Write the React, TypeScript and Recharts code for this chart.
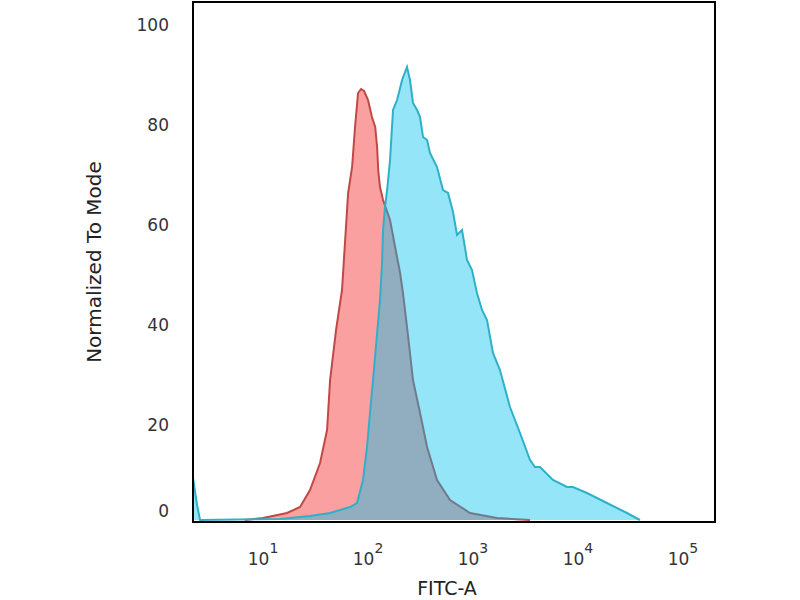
import React from 'react';
import { ComposedChart, Area, XAxis, YAxis, ReferenceArea, Label } from 'recharts';

// FITC-A intensity (log axis) and % of mode
const isotypeX = [6.7, 10, 16.9, 22.5, 28, 34.9, 40.7, 43.5, 49.6, 56.5, 64.6, 70.5, 75.2, 80.3, 85.8, 91.6, 100, 109, 117, 122, 125, 130, 139, 162, 181, 202, 215, 240, 268, 313, 365, 454, 604, 936, 1690, 3490];
const isotypeY = [0, 0.4, 1.4, 2.6, 6, 11.4, 18, 28, 38, 46, 65.4, 70.6, 78.6, 85.4, 86.2, 85.8, 84, 80.6, 78.6, 74.6, 70, 66.6, 64, 60, 54.6, 49.4, 45.4, 37, 28, 21.4, 14.6, 8, 4, 1.4, 0.4, 0];

const sampleX = [2.15, 2.35, 2.51, 14.5, 28, 43.5, 67.4, 78.5, 89.6, 97.8, 104.4, 111.6, 130, 136, 139, 145, 152, 162, 173, 189, 211, 235, 251, 268, 293, 313, 334, 365, 389, 454, 518, 578, 645, 704, 786, 877, 978, 1091, 1218, 1359, 1549, 1806, 2249, 2803, 3493, 3893, 4345, 5776, 7857, 8954, 12180, 18870, 29290, 38900];
const sampleY = [8.4, 3, 0, 0.2, 0.8, 1.4, 2.6, 3.4, 8, 14.6, 21.4, 28, 44, 51.4, 58, 62.6, 66, 72, 82, 84, 88, 90.6, 88, 83.4, 82, 80.6, 76.6, 76, 73.4, 70.6, 66, 65.4, 61.6, 57, 58, 52, 50, 45.4, 42, 40, 33.4, 30, 22.6, 17.4, 12, 10.6, 10.6, 8, 6.6, 6.6, 5.4, 3.4, 1.4, 0];

const xTicks = [10, 100, 1000, 10000, 100000];
const yTicks = [0, 20, 40, 60, 80, 100];

const X_MIN = 2.15;
const X_MAX = 202000;
const Y_MIN = -0.4;
const Y_MAX = 103.6;

const rows = [
    ...isotypeX.map((x, i) => ({ x, isotype: isotypeY[i], sample: null as number | null })),
    ...sampleX.map((x, i) => ({ x, isotype: null as number | null, sample: sampleY[i] })),
].sort((a, b) => a.x - b.x);

const XTick = (props: any) => {
    const { x, y, payload } = props;
    const exp = Math.round(Math.log10(payload.value));
    return (
        <text x={x} y={y + 43} textAnchor="middle" fill="#333" fontSize={17}>
            <tspan>10</tspan>
            <tspan dy={-12} fontSize={14}>{exp}</tspan>
        </text>
    );
};

const YTick = (props: any) => {
    const { x, y, payload } = props;
    // the zero label sits a bit higher than the others
    const shift = payload.value === 0 ? -8.5 : 5.5;
    return (
        <text x={x} y={y + shift} dy="0.35em" textAnchor="end" fill="#333" fontSize={17}>
            {payload.value}
        </text>
    );
};

export default function App() {
    return (
        <div style={{ position: 'absolute', left: 0, top: 0, width: 800, height: 600, background: '#fff', fontFamily: '"DejaVu Sans", Verdana, sans-serif' }}>
            <ComposedChart width={800} height={600} data={rows} margin={{ top: 2, right: 85, bottom: 0, left: 0 }}>
                <XAxis
                    dataKey="x"
                    type="number"
                    scale="log"
                    domain={[X_MIN, X_MAX]}
                    allowDataOverflow
                    ticks={xTicks}
                    interval={0}
                    height={78}
                    axisLine={false}
                    tickLine={false}
                    tickSize={0}
                    tickMargin={0}
                    tick={<XTick />}
                >
                    <Label
                        content={(p: any) => {
                            const vb = p.viewBox;
                            return (
                                <text x={vb.x + vb.width / 2 - 7} y={vb.y + 73} textAnchor="middle" fill="#222" fontSize={19}>
                                    FITC-A
                                </text>
                            );
                        }}
                    />
                </XAxis>
                <YAxis
                    type="number"
                    domain={[Y_MIN, Y_MAX]}
                    allowDataOverflow
                    ticks={yTicks}
                    interval={0}
                    width={193}
                    axisLine={false}
                    tickLine={false}
                    tickSize={0}
                    tickMargin={24}
                    tick={<YTick />}
                >
                    <Label
                        content={(p: any) => {
                            const vb = p.viewBox;
                            const cx = vb.x + 94;
                            const cy = vb.y + vb.height / 2;
                            return (
                                <text x={cx} y={cy} dy="0.35em" textAnchor="middle" fill="#222" fontSize={20} transform={`rotate(-90 ${cx} ${cy})`}>
                                    Normalized To Mode
                                </text>
                            );
                        }}
                    />
                </YAxis>
                <Area
                    type="linear"
                    dataKey="isotype"
                    stroke="#C04848"
                    strokeWidth={2}
                    fill="#FAA0A0"
                    fillOpacity={1}
                    connectNulls
                    dot={false}
                    activeDot={false}
                    isAnimationActive={false}
                />
                <Area
                    type="linear"
                    dataKey="sample"
                    stroke="#2FB0C8"
                    strokeWidth={2}
                    fill="#00C0ED"
                    fillOpacity={0.42}
                    connectNulls
                    dot={false}
                    activeDot={false}
                    isAnimationActive={false}
                />
                <ReferenceArea x1={X_MIN} x2={X_MAX} y1={Y_MIN} y2={Y_MAX} fill="none" stroke="#000" strokeWidth={2} />
            </ComposedChart>
        </div>
    );
}
